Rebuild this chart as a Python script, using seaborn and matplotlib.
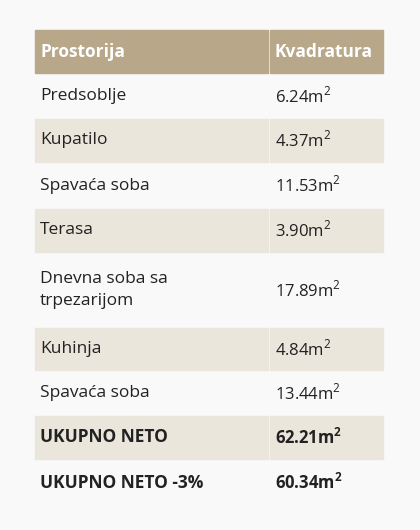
import matplotlib
matplotlib.use("Agg")
import matplotlib.pyplot as plt
import seaborn as sns
from matplotlib.patches import Rectangle

sns.set_theme(style="white")
plt.rcParams['font.family'] = ['Open Sans', 'DejaVu Sans']
plt.rcParams['mathtext.fontset'] = 'custom'
plt.rcParams['mathtext.rm'] = 'Open Sans'
plt.rcParams['mathtext.bf'] = 'Open Sans:bold'

# Podaci
headers = ["Prostorija", "Kvadratura"]
rooms = ["Predsoblje", "Kupatilo", "Spavaća soba", "Terasa",
         "Dnevna soba sa\ntrpezarijom", "Kuhinja", "Spavaća soba",
         "UKUPNO NETO", "UKUPNO NETO -3%"]
areas = [6.24, 4.37, 11.53, 3.90, 17.89, 4.84, 13.44, 62.21, 60.34]
bold_rows = [7, 8]
row_heights = [42, 43, 43, 43, 72, 42, 42, 43, 43]

bg = "#f9f9f9"
head_col = "#b8a889"
stripe = "#ebe6dc"

fig = plt.figure(figsize=(4.2, 5.3), dpi=100, facecolor=bg)
ax = fig.add_axes([0, 0, 1, 1])
ax.set_xlim(0, 420)
ax.set_ylim(530, 0)
ax.axis("off")

x0, xs, x1 = 35, 269, 383
gap = 2

# header
y = 30
ax.add_patch(Rectangle((x0, y), xs - x0 - 1, 43, color=head_col))
ax.add_patch(Rectangle((xs + 1, y), x1 - xs - 1, 43, color=head_col))
ax.text(x0 + 5, y + 22, headers[0], color="white", fontsize=12.5, fontweight="bold", va="center")
ax.text(xs + 6, y + 22, headers[1], color="white", fontsize=12.5, fontweight="bold", va="center")
y += 43 + gap

for i, (room, a, h) in enumerate(zip(rooms, areas, row_heights)):
    if i % 2 == 1:
        ax.add_patch(Rectangle((x0, y), xs - x0 - 1, h, color=stripe))
        ax.add_patch(Rectangle((xs + 1, y), x1 - xs - 1, h, color=stripe))
    b = i in bold_rows
    w = "bold" if b else "normal"
    val = f"{a:.2f}" + (r"m$\mathbf{^2}$" if b else r"m$^2$")
    ax.text(x0 + 5, y + h / 2, room, color="#222222", fontsize=12.5,
            fontweight=w, va="center", linespacing=1.45)
    ax.text(xs + 6, y + h / 2, val, color="#222222", fontsize=12,
            fontweight=w, va="center")
    y += h + gap

fig.savefig("out.png", dpi=100, facecolor=bg)
